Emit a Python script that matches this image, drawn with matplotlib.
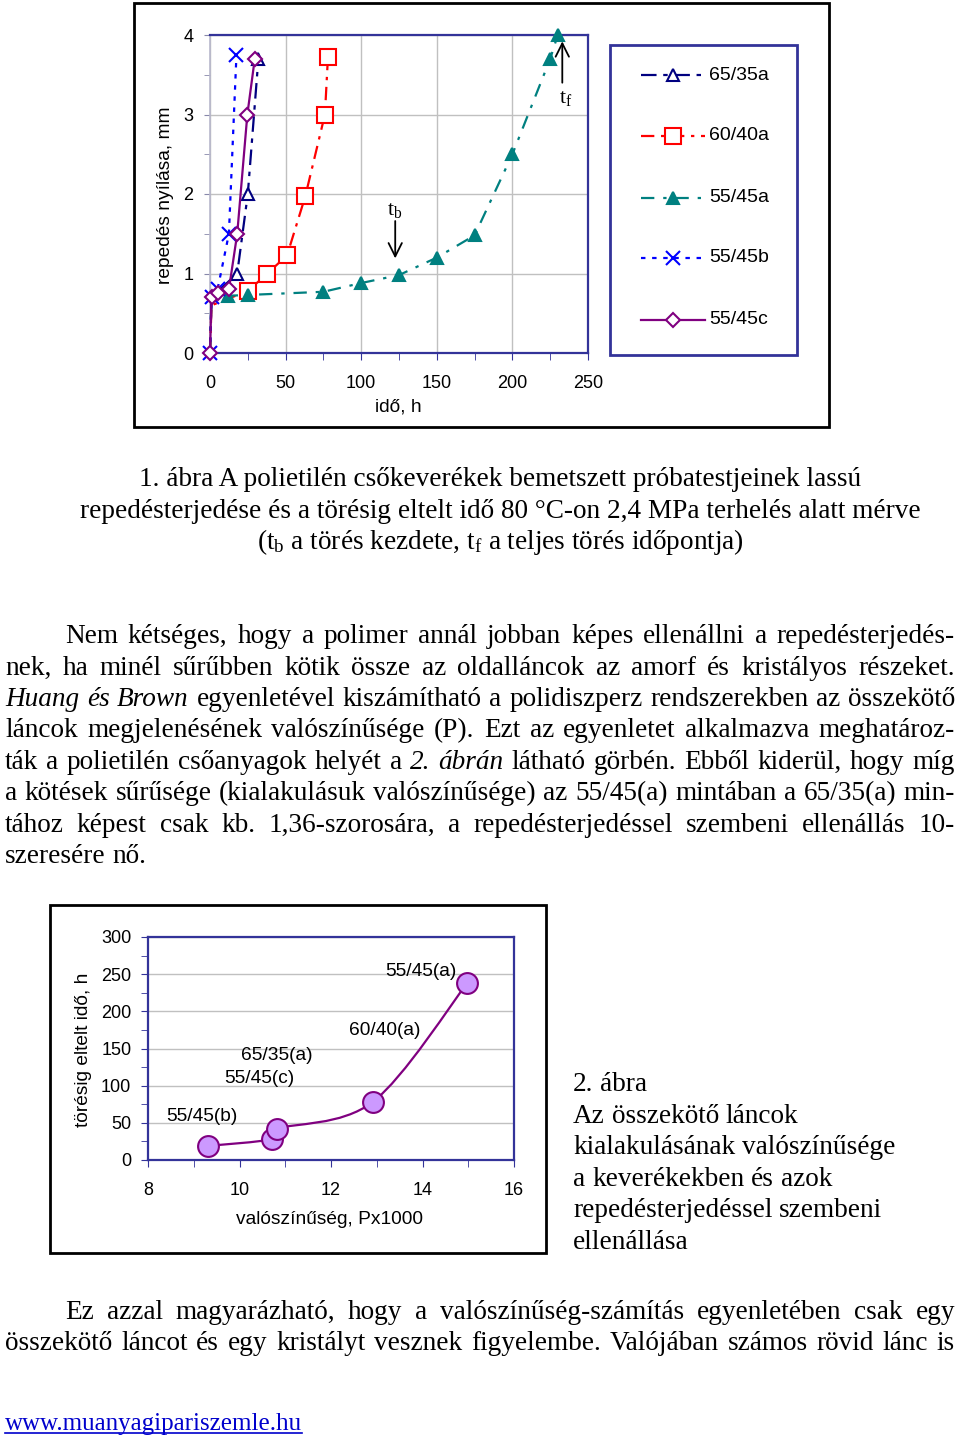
import matplotlib
matplotlib.use('Agg')
import matplotlib.pyplot as plt
import matplotlib.transforms as mtrans
from matplotlib.lines import Line2D
from matplotlib.patches import Rectangle, PathPatch
from matplotlib.path import Path
from matplotlib.font_manager import FontProperties
from matplotlib.ticker import MultipleLocator

plt.rcParams['font.family'] = ['Liberation Sans', 'DejaVu Sans']
plt.rcParams['mathtext.fontset'] = 'custom'
plt.rcParams['mathtext.rm'] = 'Liberation Serif'
plt.rcParams['mathtext.it'] = 'Liberation Serif:italic'

# ---------------- data: figure 1 (crack opening vs time) ----------------
series_names = ['65/35a', '60/40a', '55/45a', '55/45b', '55/45c']
t_6535a = [0, 1, 18, 25, 32]
y_6535a = [0, 0.7, 1.0, 2.0, 3.7]
t_6040a = [0, 1, 25, 38, 51, 63, 76, 78]
y_6040a = [0, 0.6, 0.78, 1.0, 1.23, 1.97, 3.0, 3.72]
t_5545a = [0, 1, 12, 25, 75, 100, 125, 150, 175, 200, 225, 230]
y_5545a = [0, 0.7, 0.72, 0.73, 0.77, 0.88, 0.98, 1.2, 1.48, 2.5, 3.7, 4.0]
t_5545b = [0, 1, 5, 12.5, 17.5]
y_5545b = [0, 0.7, 0.8, 1.5, 3.75]
t_5545c = [0, 1, 5, 12.5, 18, 24.7, 29.6]
y_5545c = [0, 0.7, 0.75, 0.8, 1.5, 3.0, 3.7]
x_ticks1 = [0, 50, 100, 150, 200, 250]
y_ticks1 = [0, 1, 2, 3, 4]

# ---------------- data: figure 2 (time to failure vs probability) -------
prob = [9.32, 10.71, 10.82, 12.91, 14.98]
fail_time = [19, 28, 42, 78, 238]
point_labels = ['55/45(b)', '55/45(c)', '65/35(a)', '60/40(a)', '55/45(a)']
x_ticks2 = [8, 10, 12, 14, 16]
y_ticks2 = [0, 50, 100, 150, 200, 250, 300]

W, H = 960, 1444
fig = plt.figure(figsize=(W / 100, H / 100), dpi=100)
pix = mtrans.Affine2D().scale(1 / W, -1 / H).translate(0, 1) + fig.transFigure

BLUE_AX = '#333399'
GRID = '#c0c0c0'
TICKFS = 13
LABFS = 13.8
LEGFS = 14

styles = {
    '65/35a': dict(color='#000080', ls=(0, (7, 3, 2, 3)), marker='^', mfc='white', mec='#000080', ms=9, skip=2),
    '60/40a': dict(color='#ff0000', ls=(0, (6, 3, 1.5, 3)), marker='s', mfc='white', mec='#ff0000', ms=11, skip=2),
    '55/45a': dict(color='#008080', ls=(0, (6, 4, 1.5, 4)), marker='^', mfc='#008080', mec='#008080', ms=9, skip=2),
    '55/45b': dict(color='#0000ff', ls=(0, (2, 3)), marker='x', mfc='#0000ff', mec='#0000ff', ms=10, skip=0),
    '55/45c': dict(color='#800080', ls='-', marker='D', mfc='white', mec='#800080', ms=7, skip=0),
}
series_data = {
    '65/35a': (t_6535a, y_6535a),
    '60/40a': (t_6040a, y_6040a),
    '55/45a': (t_5545a, y_5545a),
    '55/45b': (t_5545b, y_5545b),
    '55/45c': (t_5545c, y_5545c),
}

# ---------------- chart 1 ----------------
ax1 = fig.add_axes([210 / W, 1 - 353 / H, 378 / W, 318 / H])
for name in series_names:
    st = styles[name]
    tx, ty = series_data[name]
    ax1.plot(tx, ty, color=st['color'], linestyle=st['ls'], lw=1.6,
             marker=st['marker'], markersize=st['ms'], markerfacecolor=st['mfc'],
             markeredgecolor=st['mec'], markeredgewidth=1.5, clip_on=False, zorder=3,
             markevery=list(range(st['skip'], len(tx))))
ax1.set_xlim(0, 250)
ax1.set_ylim(0, 4)
ax1.set_xticks(x_ticks1)
ax1.set_yticks(y_ticks1)
ax1.xaxis.set_minor_locator(MultipleLocator(25))
ax1.yaxis.set_minor_locator(MultipleLocator(0.5))
ax1.grid(True, which='major', color=GRID, lw=1, zorder=0)
for s in ['top', 'right', 'bottom']:
    ax1.spines[s].set_color(BLUE_AX)
    ax1.spines[s].set_linewidth(1.6)
ax1.spines['left'].set_color('#b8b8cc')
ax1.spines['left'].set_linewidth(1.2)
ax1.tick_params(axis='x', which='both', direction='out', length=5, color=BLUE_AX,
                labelsize=TICKFS, pad=11)
ax1.tick_params(axis='y', which='both', direction='out', length=4, color='#8888aa',
                labelsize=TICKFS, pad=8)
ax1.set_axisbelow(True)

ax1.annotate('', xy=(122.5, 1.19), xytext=(122.5, 1.66),
             arrowprops=dict(arrowstyle='->', color='black', lw=1.3, shrinkA=0, shrinkB=0,
                             mutation_scale=24))
ax1.text(122.5, 1.80, r'$\mathrm{t_b}$', ha='center', va='center', fontsize=16)
ax1.annotate('', xy=(233, 3.92), xytext=(233, 3.40),
             arrowprops=dict(arrowstyle='->', color='black', lw=1.3, shrinkA=0, shrinkB=0,
                             mutation_scale=24))
ax1.text(235.5, 3.22, r'$\mathrm{t_f}$', ha='center', va='center', fontsize=16)

fig.text(165, 195, 'repedés nyílása, mm', rotation=90, ha='center', va='center',
         fontsize=LABFS, transform=pix)
fig.text(398, 407, 'idő, h', ha='center', va='center', fontsize=LABFS, transform=pix)

# legend (manual, in figure pixels)
leg_rows = [75, 136, 198, 258, 320]
for name, yy in zip(series_names, leg_rows):
    st = styles[name]
    fig.add_artist(Line2D([641, 705], [yy, yy], transform=pix, color=st['color'],
                          linestyle=st['ls'], lw=1.6))
    fig.add_artist(Line2D([673], [yy], transform=pix, linestyle='none', marker=st['marker'],
                          markersize=st['ms'], markerfacecolor=st['mfc'],
                          markeredgecolor=st['mec'], markeredgewidth=1.5))
    fig.text(709, yy, name, ha='left', va='center', fontsize=LEGFS, transform=pix)

fig.add_artist(Rectangle((610, 45), 187, 310, transform=pix, fill=False,
                         edgecolor=BLUE_AX, lw=2))
fig.add_artist(Rectangle((134, 3), 695, 424, transform=pix, fill=False,
                         edgecolor='black', lw=2))

# ---------------- chart 2 ----------------
ax2 = fig.add_axes([148 / W, 1 - 1160 / H, 366 / W, 223 / H])
# smoothed (Catmull-Rom style) curve through the data points
pts = list(zip(prob, fail_time))
verts = [pts[0]]
codes = [Path.MOVETO]
n = len(pts)
for i in range(n - 1):
    p0 = pts[i - 1] if i > 0 else pts[i]
    p1 = pts[i]
    p2 = pts[i + 1]
    p3 = pts[i + 2] if i + 2 < n else pts[i + 1]
    c1 = (p1[0] + (p2[0] - p0[0]) / 6, p1[1] + (p2[1] - p0[1]) / 6)
    c2 = (p2[0] - (p3[0] - p1[0]) / 6, p2[1] - (p3[1] - p1[1]) / 6)
    verts += [c1, c2, p2]
    codes += [Path.CURVE4] * 3
ax2.add_patch(PathPatch(Path(verts, codes), fill=False, edgecolor='#800080', lw=1.6, zorder=3))
ax2.plot(prob, fail_time, linestyle='none', marker='o', markersize=15,
         markerfacecolor='#cc99ff', markeredgecolor='#800080', markeredgewidth=1.5, zorder=4)
label_pos = [(9.18, 58), (10.43, 109), (10.82, 140), (13.18, 174), (13.97, 253)]
for lab, (lx, ly) in zip(point_labels, label_pos):
    ax2.text(lx, ly, lab, ha='center', va='center', fontsize=LABFS)
ax2.set_xlim(8, 16)
ax2.set_ylim(0, 300)
ax2.set_xticks(x_ticks2)
ax2.set_yticks(y_ticks2)
ax2.xaxis.set_minor_locator(MultipleLocator(1))
ax2.yaxis.set_minor_locator(MultipleLocator(25))
ax2.grid(True, axis='y', which='major', color=GRID, lw=1, zorder=0)
for s in ['top', 'right', 'bottom', 'left']:
    ax2.spines[s].set_color(BLUE_AX)
    ax2.spines[s].set_linewidth(1.6)
ax2.tick_params(axis='x', which='both', direction='out', length=5, color=BLUE_AX,
                labelsize=TICKFS, pad=11)
ax2.tick_params(axis='y', which='both', direction='out', length=5, color=BLUE_AX,
                labelsize=TICKFS, pad=7)
ax2.set_axisbelow(True)
fig.text(84, 1050, 'törésig eltelt idő, h', rotation=90, ha='center', va='center',
         fontsize=LABFS, transform=pix)
fig.text(330, 1220, 'valószínűség, Px1000', ha='center', va='center',
         fontsize=LABFS, transform=pix)
fig.add_artist(Rectangle((50, 905), 496, 348, transform=pix, fill=False,
                         edgecolor='black', lw=2))

# ---------------- body text ----------------
FS = 19.6
serif = FontProperties(family='Liberation Serif', size=FS)
serif_it = FontProperties(family='Liberation Serif', style='italic', size=FS)
serif_url = FontProperties(family='Liberation Serif', size=18)
renderer = fig.canvas.get_renderer()


def wwidth(s, prop):
    w, h, d = renderer.get_text_width_height_descent(s, prop, ismath=False)
    return w


SPACE = wwidth('a a', serif) - wwidth('aa', serif)
BASE = 8


def draw_line(text, x0, x1, yc, justify):
    toks = []
    for w in text.split(' '):
        if w.startswith('*') and w.endswith('*') and len(w) > 1:
            toks.append((w[1:-1], serif_it))
        else:
            toks.append((w, serif))
    widths = [wwidth(w, p) for w, p in toks]
    gap = SPACE
    if justify and len(toks) > 1:
        gap = (x1 - x0 - sum(widths)) / (len(toks) - 1)
    x = x0
    for (w, p), wd in zip(toks, widths):
        fig.text(x, yc + BASE, w, fontproperties=p, transform=pix, ha='left', va='baseline')
        x += wd + gap


caption1 = [
    ('1. ábra A polietilén csőkeverékek bemetszett próbatestjeinek lassú', 478),
    ('repedésterjedése és a törésig eltelt idő 80 °C-on 2,4 MPa terhelés alatt mérve', 510),
    (r'($\mathrm{t_b}$ a törés kezdete, $\mathrm{t_f}$ a teljes törés időpontja)', 541),
]
for s, yc in caption1:
    fig.text(500, yc + BASE, s, fontproperties=serif, transform=pix, ha='center', va='baseline')

para1 = [
    'Nem kétséges, hogy a polimer annál jobban képes ellenállni a repedésterjedés-',
    'nek, ha minél sűrűbben kötik össze az oldalláncok az amorf és kristályos részeket.',
    '*Huang* *és* *Brown* egyenletével kiszámítható a polidiszperz rendszerekben az összekötő',
    'láncok megjelenésének valószínűsége (P). Ezt az egyenletet alkalmazva meghatároz-',
    'ták a polietilén csőanyagok helyét a *2.* *ábrán* látható görbén. Ebből kiderül, hogy míg',
    'a kötések sűrűsége (kialakulásuk valószínűsége) az 55/45(a) mintában a 65/35(a) min-',
    'tához képest csak kb. 1,36-szorosára, a repedésterjedéssel szembeni ellenállás 10-',
    'szeresére nő.',
]
para1_y = [635, 667, 698, 729, 761, 792, 824, 855]
for i, (s, yc) in enumerate(zip(para1, para1_y)):
    x0 = 65 if i == 0 else 5
    draw_line(s, x0, 955, yc, justify=(i < len(para1) - 1))

caption2 = ['2. ábra', 'Az összekötő láncok', 'kialakulásának valószínűsége',
            'a keverékekben és azok', 'repedésterjedéssel szembeni', 'ellenállása']
caption2_y = [1083, 1115, 1146, 1178, 1209, 1241]
for s, yc in zip(caption2, caption2_y):
    draw_line(s, 573, 960, yc, justify=False)

para2 = [
    'Ez azzal magyarázható, hogy a valószínűség-számítás egyenletében csak egy',
    'összekötő láncot és egy kristályt vesznek figyelembe. Valójában számos rövid lánc is',
]
para2_y = [1311, 1342]
for i, (s, yc) in enumerate(zip(para2, para2_y)):
    x0 = 65 if i == 0 else 5
    draw_line(s, x0, 955, yc, justify=True)

url = 'www.muanyagipariszemle.hu'
fig.text(5, 1422 + BASE, url, fontproperties=serif_url, color='#0000cc', transform=pix,
         ha='left', va='baseline')
uw = wwidth(url, serif_url)
fig.add_artist(Line2D([5, 5 + uw], [1433, 1433], transform=pix, color='#0000cc', lw=1.2))

fig.savefig('out.png', dpi=100)
